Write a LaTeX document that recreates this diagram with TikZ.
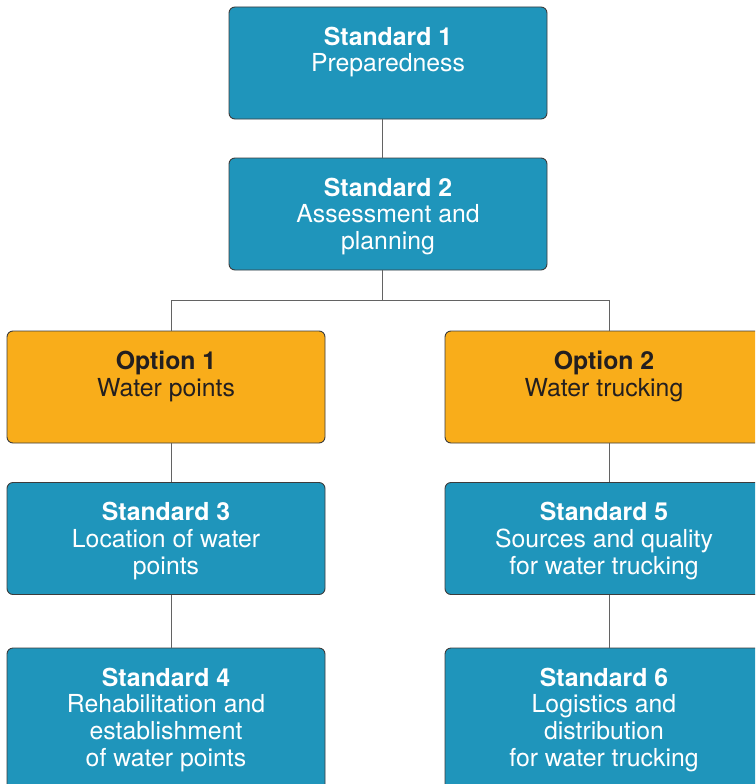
\documentclass[tikz,border=0pt]{standalone}
\usepackage{fontspec}
\setmainfont{TeX Gyre Heros}
\usepackage{xcolor}
\usepackage{tikz}
\definecolor{std-color}{RGB}{31, 149, 187}
\definecolor{opt-color}{RGB}{249, 173, 26}
\definecolor{edge-color}{RGB}{60, 60, 60}
\definecolor{text-dark}{RGB}{35, 31, 32}
\tikzset{
  stdbox/.style={draw=edge-color, line width=0.9pt, fill=std-color, rounded corners=6pt,
    minimum width=318pt, minimum height=112pt, inner sep=0pt},
  optbox/.style={stdbox, fill=opt-color},
  boxtext/.style={anchor=north, align=center, inner sep=0pt, text=white,
    font=\fontsize{24.8}{26.8}\selectfont},
  opttext/.style={boxtext, text=text-dark},
  link/.style={draw=edge-color!80, line width=0.9pt}
}
\begin{document}
\begin{tikzpicture}[x=1pt, y=1pt]
\useasboundingbox (0,0) rectangle (755,-784);
\clip (0,0) rectangle (755,-784);

% boxes
\node[stdbox] (s1_box) at (388,-63) {};
\node[stdbox] (s2_box) at (388,-214) {};
\node[optbox] (opt1_box) at (166,-387) {};
\node[optbox] (opt2_box) at (604,-387) {};
\node[stdbox] (s3_box) at (166,-538.5) {};
\node[stdbox] (s5_box) at (604,-538.5) {};
\node[stdbox, minimum height=150pt] (s4_box) at (166,-723) {};
\node[stdbox, minimum height=150pt] (s6_box) at (604,-723) {};

% texts
\node[boxtext] (s1_text) at ([yshift=-20pt]s1_box.north) {\textbf{Standard 1}\\Preparedness};
\node[boxtext] (s2_text) at ([yshift=-20pt]s2_box.north) {\textbf{Standard 2}\\Assessment and\\planning};
\node[opttext] (opt1_text) at ([yshift=-20pt]opt1_box.north) {\textbf{Option 1}\\Water points};
\node[opttext] (opt2_text) at ([yshift=-20pt]opt2_box.north) {\textbf{Option 2}\\Water trucking};
\node[boxtext] (s3_text) at ([yshift=-20pt]s3_box.north) {\textbf{Standard 3}\\Location of water\\points};
\node[boxtext] (s5_text) at ([yshift=-20pt]s5_box.north) {\textbf{Standard 5}\\Sources and quality\\for water trucking};
\node[boxtext] (s4_text) at ([yshift=-20pt]s4_box.north) {\textbf{Standard 4}\\Rehabilitation and\\establishment\\of water points};
\node[boxtext] (s6_text) at ([yshift=-20pt]s6_box.north) {\textbf{Standard 6}\\Logistics and\\distribution\\for water trucking};

% connectors
\coordinate (split) at ([xshift=-6pt, yshift=-30pt]s2_box.south);
\draw[link] ([xshift=-6pt]s1_box.south) -- ([xshift=-6pt]s2_box.north);
\draw[link] ([xshift=-6pt]s2_box.south) -- (split);
\draw[link] ([xshift=5pt]opt1_box.north) |- (split) -| ([xshift=5pt]opt2_box.north);
\draw[link] ([xshift=5pt]opt1_box.south) -- ([xshift=5pt]s3_box.north);
\draw[link] ([xshift=5pt]s3_box.south) -- ([xshift=5pt]s4_box.north);
\draw[link] ([xshift=5pt]opt2_box.south) -- ([xshift=5pt]s5_box.north);
\draw[link] ([xshift=5pt]s5_box.south) -- ([xshift=5pt]s6_box.north);
\end{tikzpicture}
\end{document}
